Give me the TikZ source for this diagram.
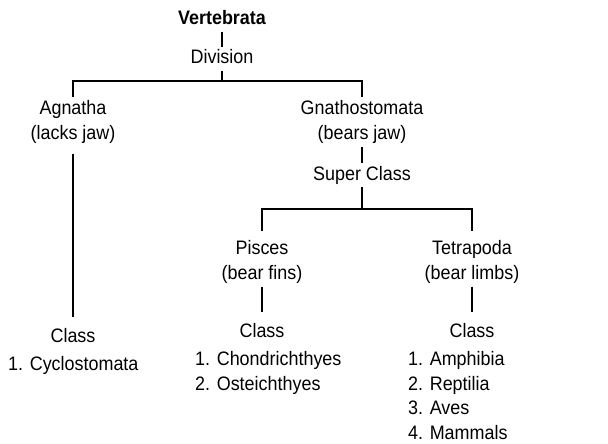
\documentclass[tikz,border=0pt]{standalone}
\usepackage{fontspec}
\setmainfont{Liberation Sans}[FakeStretch=0.92]
\tikzset{
  taxon/.style={align=center,inner sep=3pt,font=\fontsize{19.5}{25}\selectfont},
  rank/.style={inner sep=2.5pt,text height=14pt,text depth=4pt,font=\fontsize{19.5}{25}\selectfont},
  classrank/.style={rank,text height=22pt},
  members/.style={align=left,inner sep=3pt,font=\fontsize{19.5}{24.7}\selectfont},
  link/.style={line width=1.1pt}
}

\begin{document}
\begin{tikzpicture}[x=1pt,y=-1pt]
  \useasboundingbox (0,0) rectangle (608,444);
  % top of the tree
  \node[rank,font=\fontsize{19.5}{25}\selectfont\bfseries,anchor=base] (vert) at (222,25) {Vertebrata};
  \node[rank,anchor=base] (div) at (222,64) {Division};
  \node[taxon,anchor=north] (agnatha) at (73,97) {Agnatha\\(lacks jaw)};
  \node[taxon,anchor=north] (gnatho) at (362,97) {Gnathostomata\\(bears jaw)};
  \coordinate (j1) at (222,81);
  \node[rank,anchor=base] (super) at (362,180) {Super Class};
  \node[taxon,anchor=north] (pisces) at (262,237) {Pisces\\(bear fins)};
  \node[taxon,anchor=north] (tetra) at (472,237) {Tetrapoda\\(bear limbs)};
  \coordinate (j2) at (362,209);
  % classes
  \node[classrank,anchor=base] (classA) at (73,342) {Class};
  \node[classrank,anchor=base] (classB) at (262,337) {Class};
  \node[classrank,anchor=base] (classC) at (472,337) {Class};
  \node[members,anchor=base west] (listA) at (5,370) {1. Cyclostomata};
  \node[members,anchor=north west] (listB) at (192,348) {1. Chondrichthyes\\2. Osteichthyes};
  \node[members,anchor=north west] (listC) at (405,348) {1. Amphibia\\2. Reptilia\\3. Aves\\4. Mammals};
  % connectors
  \draw[link] (vert) -- (div);
  \draw[link] (div) -- (j1);
  \draw[link] (agnatha) |- (j1) -| (gnatho);
  \draw[link] (gnatho) -- (super);
  \draw[link] (super) -- (j2);
  \draw[link,shorten <=6pt,shorten >=6pt] (pisces) |- (j2) -| (tetra);
  \draw[link,shorten <=7pt] (agnatha) -- (classA);
  \draw[link] (pisces) -- (classB);
  \draw[link] (tetra) -- (classC);
\end{tikzpicture}
\end{document}
